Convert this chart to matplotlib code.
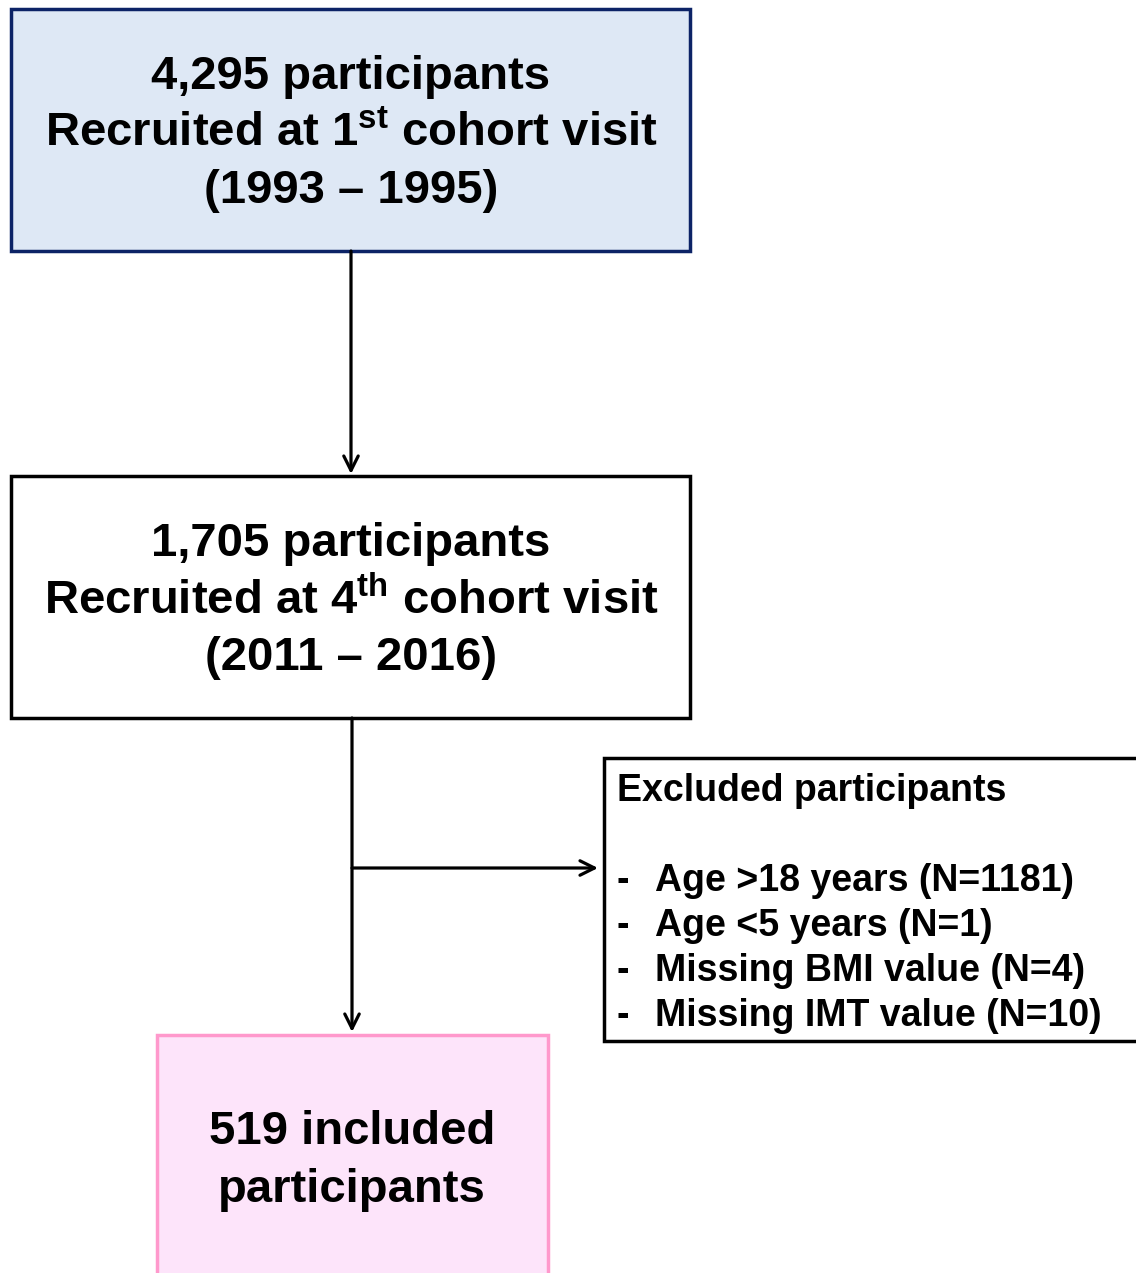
import matplotlib.pyplot as plt
import matplotlib.patches as patches

plt.rcParams['font.family'] = ['Liberation Sans', 'DejaVu Sans']
plt.rcParams['mathtext.fontset'] = 'custom'
plt.rcParams['mathtext.rm'] = 'Liberation Sans:bold'
plt.rcParams['mathtext.bf'] = 'Liberation Sans:bold'

# Textos del diagrama
box1_lines = ["4,295 participants", r"Recruited at 1$^{\mathbf{st}}$ cohort visit", "(1993 \u2013 1995)"]
box2_lines = ["1,705 participants", r"Recruited at 4$^{\mathbf{th}}$ cohort visit", "(2011 \u2013 2016)"]
box3_lines = ["519 included", "participants"]
excl_title = "Excluded participants"
excl_items = ["Age >18 years (N=1181)", "Age <5 years (N=1)",
              "Missing BMI value (N=4)", "Missing IMT value (N=10)"]

W, H = 1136, 1273
fig = plt.figure(figsize=(W / 100, H / 100), dpi=100)
ax = fig.add_axes([0, 0, 1, 1])
ax.set_xlim(0, W)
ax.set_ylim(H, 0)
ax.axis('off')

# Cajas
ax.add_patch(patches.Rectangle((11, 9), 679, 242, linewidth=2.5,
                               edgecolor='#0c2366', facecolor='#dee8f5'))
ax.add_patch(patches.Rectangle((11, 476), 679, 242, linewidth=2.5,
                               edgecolor='black', facecolor='white'))
ax.add_patch(patches.Rectangle((604, 758), 540, 283, linewidth=2.5,
                               edgecolor='black', facecolor='white'))
ax.add_patch(patches.Rectangle((157, 1035), 391, 260, linewidth=2.5,
                               edgecolor='#ff99cc', facecolor='#fde4fa'))

# Flechas
arrow = dict(arrowstyle='->', lw=2.3, color='black', mutation_scale=26,
             shrinkA=0, shrinkB=0)
ax.annotate('', xy=(351, 474), xytext=(351, 251), arrowprops=arrow)
ax.annotate('', xy=(352, 1032), xytext=(352, 718), arrowprops=arrow)
ax.annotate('', xy=(598, 868), xytext=(352, 868), arrowprops=arrow)

# Texto
big = 34
for i, t in enumerate(box1_lines):
    ax.text(351, 77 + 57 * i, t, fontsize=big, fontweight='bold',
            ha='center', va='center')
for i, t in enumerate(box2_lines):
    ax.text(351, 544 + 57 * i, t, fontsize=big, fontweight='bold',
            ha='center', va='center')
for i, t in enumerate(box3_lines):
    ax.text(352, 1132 + 58 * i, t, fontsize=big, fontweight='bold',
            ha='center', va='center')

small = 27
ax.text(617, 791, excl_title, fontsize=small, fontweight='bold',
        ha='left', va='center')
for i, t in enumerate(excl_items):
    y = 881 + 45 * i
    ax.text(617, y, '-', fontsize=small, fontweight='bold', ha='left', va='center')
    ax.text(655, y, t, fontsize=small, fontweight='bold', ha='left', va='center')

fig.savefig('out.png', dpi=100)
